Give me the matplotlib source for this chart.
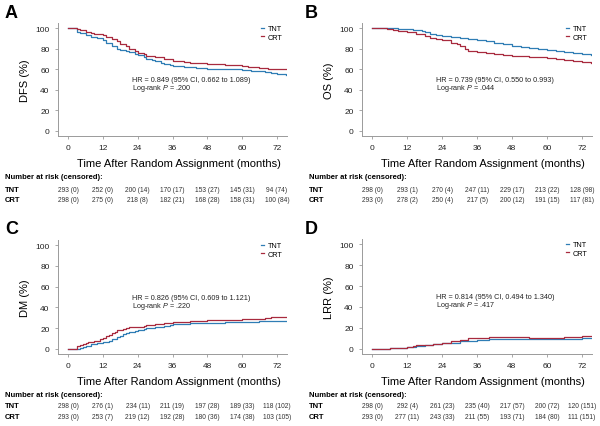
#!/usr/bin/env python
import numpy as np
import matplotlib
matplotlib.use('Agg')
from matplotlib import pyplot as plt
from matplotlib import transforms

plt.rcParams['font.family'] = ['Liberation Sans', 'DejaVu Sans']
plt.rcParams['mathtext.fontset'] = 'custom'
plt.rcParams['mathtext.rm'] = 'Liberation Sans'
plt.rcParams['mathtext.it'] = 'Liberation Sans:italic'

TNT_COLOR = '#2f7db5'
CRT_COLOR = '#a82a3e'

ticks = [0, 12, 24, 36, 48, 60, 72]

# ---- panel A: DFS
dfs_t_tnt = [0, 2.5, 3, 4, 6, 8, 10, 12, 13, 15, 17, 18, 20, 21, 23, 24, 26, 27, 29, 30, 32, 33, 35, 36, 40, 44, 48, 54, 60, 63, 66, 68, 70, 72, 75]
dfs_v_tnt = [100, 100, 96, 95, 93, 91, 90, 88, 86, 83, 80, 79, 78, 77, 75, 74, 72, 70, 69, 68, 66, 65, 64, 63, 62, 61, 60, 60, 59, 58, 58, 57, 56, 55, 54]
dfs_t_crt = [0, 3, 4, 6, 8, 9, 12, 13, 15, 17, 18, 20, 21, 23, 24, 26, 27, 30, 33, 36, 40, 42, 48, 54, 60, 62, 66, 69, 72, 75]
dfs_v_crt = [100, 99, 98, 96, 95, 94, 93, 91, 89, 87, 85, 83, 80, 78, 76, 75, 73, 72, 70, 68, 67, 66, 65, 64, 63, 62, 61, 60, 60, 60]

# ---- panel B: OS
os_t_tnt = [0, 6, 9, 12, 14, 17, 18, 20, 22, 24, 27, 30, 33, 36, 39, 42, 45, 48, 51, 54, 57, 60, 63, 66, 69, 72, 75]
os_v_tnt = [100, 100, 99.5, 99, 98, 97, 96, 94, 93, 92, 91, 90, 89, 88, 87, 86, 85, 83, 82, 81, 80, 79, 78, 77, 76, 75, 74]
os_t_crt = [0, 5, 7, 9, 12, 15, 18, 20, 22, 24, 27, 29, 30, 32, 33, 36, 39, 42, 45, 48, 54, 60, 63, 66, 69, 72, 75]
os_v_crt = [100, 99.5, 98, 97, 96, 94, 92, 90, 89, 88, 86, 85, 83, 80, 78, 77, 76, 75, 74, 73, 72, 71, 70, 69, 68, 67, 66]

# ---- panel C: DM
dm_t_tnt = [0, 3, 4, 5, 6, 8, 10, 12, 14, 15, 17, 18, 19, 20, 21, 23, 24, 26, 27, 30, 33, 35, 36, 42, 48, 54, 60, 66, 72, 75]
dm_v_tnt = [0, 0, 1, 2, 3, 5, 6, 7, 8, 9, 11, 12, 14, 15, 16, 17, 18, 19, 20, 21, 22, 23, 24, 25, 25, 26, 26, 27, 27, 27]
dm_t_crt = [0, 2.5, 3, 4, 5, 6, 7, 9, 11, 12, 13, 14, 15, 16, 17, 19, 20, 21, 24, 26, 27, 30, 33, 36, 42, 48, 54, 60, 66, 68, 70, 72, 75]
dm_v_crt = [0, 0, 3, 4, 5, 6, 7, 8, 9, 10, 12, 13, 15, 16, 18, 19, 20, 21, 21, 22, 23, 24, 25, 26, 27, 28, 28, 29, 29, 30, 31, 31, 31]

# ---- panel D: LRR
lrr_t_tnt = [0, 6, 9, 12, 14, 15, 18, 21, 24, 27, 30, 33, 36, 40, 48, 54, 60, 66, 72, 75]
lrr_v_tnt = [0, 0.5, 1, 1.5, 2, 3, 4, 4.5, 5.5, 6, 7, 7.5, 8, 9, 9, 9, 9.5, 9.5, 10, 10]
lrr_t_crt = [0, 6, 9, 12, 14, 15, 18, 21, 24, 27, 30, 33, 36, 40, 48, 54, 60, 66, 72, 75]
lrr_v_crt = [0, 0.5, 1, 2, 3, 3.5, 4, 5, 6, 7, 8.5, 10, 10, 11, 11, 10.5, 10.5, 11, 12, 12]

risk_tnt = {
    'A': ['293 (0)', '252 (0)', '200 (14)', '170 (17)', '153 (27)', '145 (31)', '94 (74)'],
    'B': ['298 (0)', '293 (1)', '270 (4)', '247 (11)', '229 (17)', '213 (22)', '128 (98)'],
    'C': ['298 (0)', '276 (1)', '234 (11)', '211 (19)', '197 (28)', '189 (33)', '118 (102)'],
    'D': ['298 (0)', '292 (4)', '261 (23)', '235 (40)', '217 (57)', '200 (72)', '120 (151)'],
}
risk_crt = {
    'A': ['298 (0)', '275 (0)', '218 (8)', '182 (21)', '168 (28)', '158 (31)', '100 (84)'],
    'B': ['293 (0)', '278 (2)', '250 (4)', '217 (5)', '200 (12)', '191 (15)', '117 (81)'],
    'C': ['293 (0)', '253 (7)', '219 (12)', '192 (28)', '180 (36)', '174 (38)', '103 (105)'],
    'D': ['293 (0)', '277 (11)', '243 (33)', '211 (55)', '193 (71)', '184 (80)', '111 (151)'],
}

hr_text = {
    'A': ('HR = 0.849 (95% CI, 0.662 to 1.089)', 'Log-rank $P$ = .200'),
    'B': ('HR = 0.739 (95% CI, 0.550 to 0.993)', 'Log-rank $P$ = .044'),
    'C': ('HR = 0.826 (95% CI, 0.609 to 1.121)', 'Log-rank $P$ = .220'),
    'D': ('HR = 0.814 (95% CI, 0.494 to 1.340)', 'Log-rank $P$ = .417'),
}
ylabels = {'A': 'DFS (%)', 'B': 'OS (%)', 'C': 'DM (%)', 'D': 'LRR (%)'}

curves = {
    'A': (dfs_t_tnt, dfs_v_tnt, dfs_t_crt, dfs_v_crt),
    'B': (os_t_tnt, os_v_tnt, os_t_crt, os_v_crt),
    'C': (dm_t_tnt, dm_v_tnt, dm_t_crt, dm_v_crt),
    'D': (lrr_t_tnt, lrr_v_tnt, lrr_t_crt, lrr_v_crt),
}

W, H = 600, 427
fig = plt.figure(figsize=(6, 4.27), dpi=100)

# axes boxes in pixels: left, top, right, bottom
boxes = {
    'A': (58, 24, 287, 137),
    'B': (362, 24, 592, 137),
    'C': (58, 241, 287, 355),
    'D': (362, 240, 592, 355),
}
# vertical pixel positions: xlabel, "Number at risk", TNT row, CRT row
rows = {
    'A': (164, 178, 190, 201),
    'B': (164, 178, 190, 201),
    'C': (382, 396, 407, 418),
    'D': (382, 396, 407, 418),
}
panel_xy = {'A': (5, 13), 'B': (305, 13), 'C': (5, 230), 'D': (305, 230)}


def fy(p):
    return 1 - p / H


for key in 'ABCD':
    l, t, r, b = boxes[key]
    ax = fig.add_axes([l / W, fy(b), (r - l) / W, (b - t) / H])
    t1, v1, t2, v2 = curves[key]
    ax.step(t1, v1, where='post', color=TNT_COLOR, lw=0.9, label='TNT')
    ax.step(t2, v2, where='post', color=CRT_COLOR, lw=0.9, label='CRT')
    ax.set_xlim(-3.5, 75.5)
    ax.set_ylim(-5, 105)
    ax.set_xticks(ticks)
    ax.set_yticks([0, 20, 40, 60, 80, 100])
    for s in ['top', 'right']:
        ax.spines[s].set_visible(False)
    for s in ['left', 'bottom']:
        ax.spines[s].set_color('#9a9a9a')
        ax.spines[s].set_linewidth(0.7)
    ax.tick_params(labelsize=6, length=2, width=0.6, color='#9a9a9a', pad=4,
                   labelcolor='#222222')
    ax.set_ylabel(ylabels[key], fontsize=8, labelpad=4)
    ax.text(22, 50, hr_text[key][0], fontsize=5.2, va='center', color='#222222')
    ax.text(22, 42, hr_text[key][1], fontsize=5.2, va='center', color='#222222')
    leg = ax.legend(loc='upper right', bbox_to_anchor=(1.0, 1.02), frameon=False,
                    fontsize=5.2, handlelength=0.5, handletextpad=0.5,
                    labelspacing=0.2, borderaxespad=0.2)

    xl, nr, rt, rc = rows[key]
    fig.text((l + r) / 2 / W + 0.01, fy(xl), 'Time After Random Assignment (months)',
             fontsize=8, ha='center', va='center')
    px0 = l - 53
    fig.text(px0 / W, fy(nr), 'Number at risk (censored):', fontsize=5.5,
             fontweight='bold', va='center')
    fig.text(px0 / W, fy(rt), 'TNT', fontsize=5.5, fontweight='bold', va='center')
    fig.text(px0 / W, fy(rc), 'CRT', fontsize=5.5, fontweight='bold', va='center')
    trans = transforms.blended_transform_factory(ax.transData, fig.transFigure)
    for x, s1, s2 in zip(ticks, risk_tnt[key], risk_crt[key]):
        ax.text(x, fy(rt), s1, transform=trans, fontsize=4.8, ha='center', va='center',
                color='#333333', clip_on=False)
        ax.text(x, fy(rc), s2, transform=trans, fontsize=4.8, ha='center', va='center',
                color='#333333', clip_on=False)

    px, py = panel_xy[key]
    fig.text(px / W, fy(py), key, fontsize=13, fontweight='bold', va='center')

fig.savefig('out.png', dpi=100)
